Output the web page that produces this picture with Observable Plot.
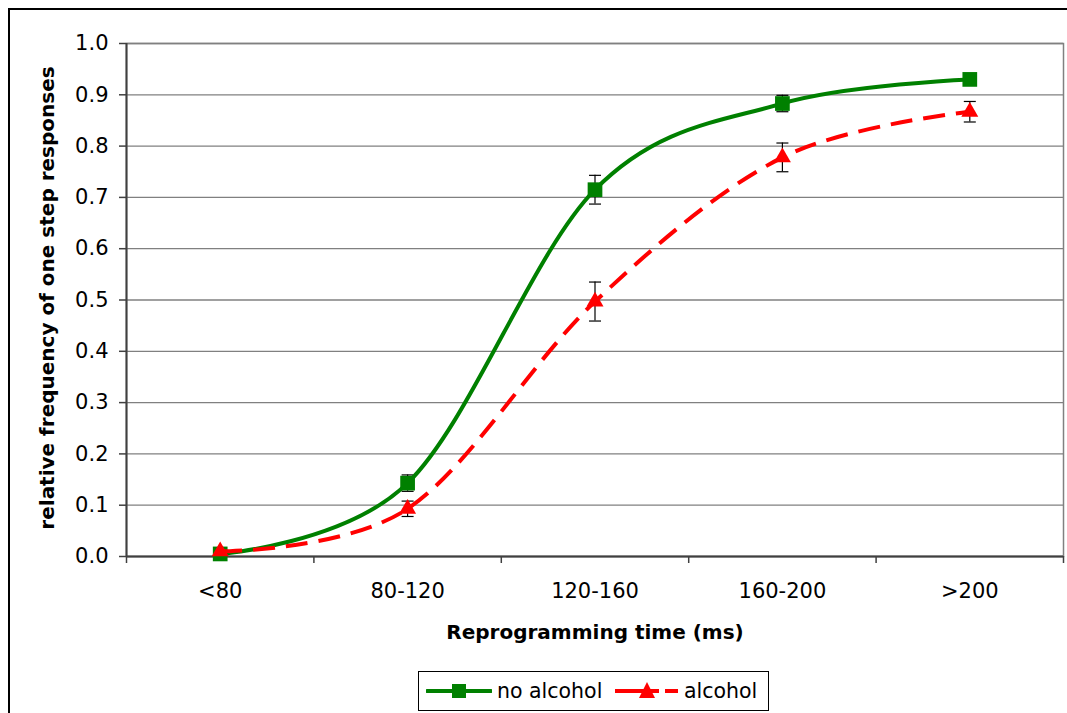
<!DOCTYPE html>
<html>
<head>
<meta charset="utf-8">
<script src="https://cdn.jsdelivr.net/npm/d3@7"></script>
<script src="https://cdn.jsdelivr.net/npm/@observablehq/plot@0.6"></script>
<style>
  body { margin: 0; background: #fff; }
  #wrap { position: relative; width: 1067px; height: 713px; overflow: hidden; font-family: "DejaVu Sans", sans-serif; }
  #chart { position: absolute; left: 0; top: 0; }
  #border { position: absolute; left: 8px; top: 8px; width: 2000px; height: 2000px; border-left: 2px solid #000; border-top: 2px solid #000; pointer-events: none; }
  #legend { position: absolute; left: 418px; top: 671px; width: 349px; height: 38px; border: 1px solid #000; background: #fff; }
  #legend .sw { position: absolute; top: 9px; }
  #legend .lt { position: absolute; top: 7px; font-size: 20.5px; line-height: 24px; color: #000; }
</style>
</head>
<body>
<div id="wrap">
  <div id="chart"></div>
  <div id="border"></div>
  <div id="legend">
    <svg class="sw" style="left:7px" width="66" height="20">
      <line x1="1" y1="10" x2="65" y2="10" stroke="#008000" stroke-width="4" stroke-linecap="round"/>
      <rect x="26" y="3" width="14" height="14" fill="#008000"/>
    </svg>
    <span class="lt" style="left:78px">no alcohol</span>
    <svg class="sw" style="left:196px" width="64" height="20">
      <line x1="0" y1="10" x2="44" y2="10" stroke="#ff0000" stroke-width="4"/>
      <line x1="50" y1="10" x2="63" y2="10" stroke="#ff0000" stroke-width="4"/>
      <path d="M32,1 L40,17 L24,17 Z" fill="#ff0000"/>
    </svg>
    <span class="lt" style="left:265px">alcohol</span>
  </div>
</div>
<script>
const categories = ["<80", "80-120", "120-160", "160-200", ">200"];
const noAlcohol = [0.005, 0.143, 0.715, 0.883, 0.930];
const noAlcoholErr = [0.004, 0.016, 0.028, 0.016, 0.006];
const alcohol = [0.010, 0.093, 0.497, 0.778, 0.867];
const alcoholErr = [0.005, 0.015, 0.038, 0.028, 0.020];
const yTicks = [0, 0.1, 0.2, 0.3, 0.4, 0.5, 0.6, 0.7, 0.8, 0.9, 1.0];
const xLabel = "Reprogramming time (ms)";
const yLabel = "relative frequency of one step responses";

const green = categories.map((c, i) => ({i, cat: c, v: noAlcohol[i], lo: noAlcohol[i] - noAlcoholErr[i], hi: noAlcohol[i] + noAlcoholErr[i]}));
const red = categories.map((c, i) => ({i, cat: c, v: alcohol[i], lo: alcohol[i] - alcoholErr[i], hi: alcohol[i] + alcoholErr[i]}));
const idx = categories.map((c, i) => i);
const bounds = categories.map((c, i) => i - 0.5).concat([categories.length - 0.5]);

const capSymbol = {draw(ctx) { ctx.moveTo(-6, 0); ctx.lineTo(6, 0); }};

const chart = Plot.plot({
  width: 1067,
  height: 665,
  marginTop: 43,
  marginBottom: 109,
  marginLeft: 126,
  marginRight: 4,
  style: {fontFamily: "'DejaVu Sans', sans-serif", fontSize: "21px", color: "#000", background: "transparent", overflow: "visible"},
  x: {type: "linear", domain: [-0.5, categories.length - 0.5]},
  y: {domain: [0, 1]},
  marks: [
    Plot.gridY(yTicks, {stroke: "#808080", strokeOpacity: 1, strokeWidth: 1.3}),
    Plot.frame({stroke: "#808080", strokeWidth: 1.5}),
    Plot.ruleY([0], {stroke: "#404040", strokeWidth: 2}),
    Plot.ruleX([-0.5], {stroke: "#404040", strokeWidth: 2}),
    Plot.axisY(yTicks, {tickSize: 7, tickPadding: 11, tickFormat: d3.format(".1f"), fontSize: 21, stroke: "#404040", strokeWidth: 1.5, label: null}),
    Plot.axisX(bounds, {tickSize: 7, tickFormat: () => "", stroke: "#404040", strokeWidth: 1.5, label: null}),
    Plot.axisX(idx, {tickSize: 0, tickPadding: 27, tickFormat: i => categories[i], fontSize: 21, label: null}),
    Plot.text([xLabel], {frameAnchor: "bottom", dy: 76, fontWeight: "bold", fontSize: 20, lineAnchor: "middle"}),
    Plot.text([yLabel], {frameAnchor: "left", textAnchor: "middle", dx: -79, dy: -2, rotate: -90, fontWeight: "bold", fontSize: 20, lineAnchor: "middle"}),
    // error bars
    Plot.ruleX(green, {x: "i", y1: "lo", y2: "hi", stroke: "#000", strokeWidth: 1.2}),
    Plot.dot(green, {x: "i", y: "lo", symbol: capSymbol, stroke: "#000", strokeWidth: 1.2}),
    Plot.dot(green, {x: "i", y: "hi", symbol: capSymbol, stroke: "#000", strokeWidth: 1.2}),
    Plot.ruleX(red, {x: "i", y1: "lo", y2: "hi", stroke: "#000", strokeWidth: 1.2}),
    Plot.dot(red, {x: "i", y: "lo", symbol: capSymbol, stroke: "#000", strokeWidth: 1.2}),
    Plot.dot(red, {x: "i", y: "hi", symbol: capSymbol, stroke: "#000", strokeWidth: 1.2}),
    // series
    Plot.line(green, {x: "i", y: "v", curve: "cardinal", stroke: "#008000", strokeWidth: 4}),
    Plot.dot(green, {x: "i", y: "v", symbol: "square", r: 8.3, fill: "#008000", stroke: "none"}),
    Plot.line(red, {x: "i", y: "v", curve: "cardinal", stroke: "#ff0000", strokeWidth: 4, strokeDasharray: "22,11", strokeLinecap: "butt"}),
    Plot.dot(red, {x: "i", y: "v", symbol: "triangle", r: 6.3, fill: "#ff0000", stroke: "none"})
  ]
});
document.getElementById("chart").appendChild(chart);
</script>
</body>
</html>
